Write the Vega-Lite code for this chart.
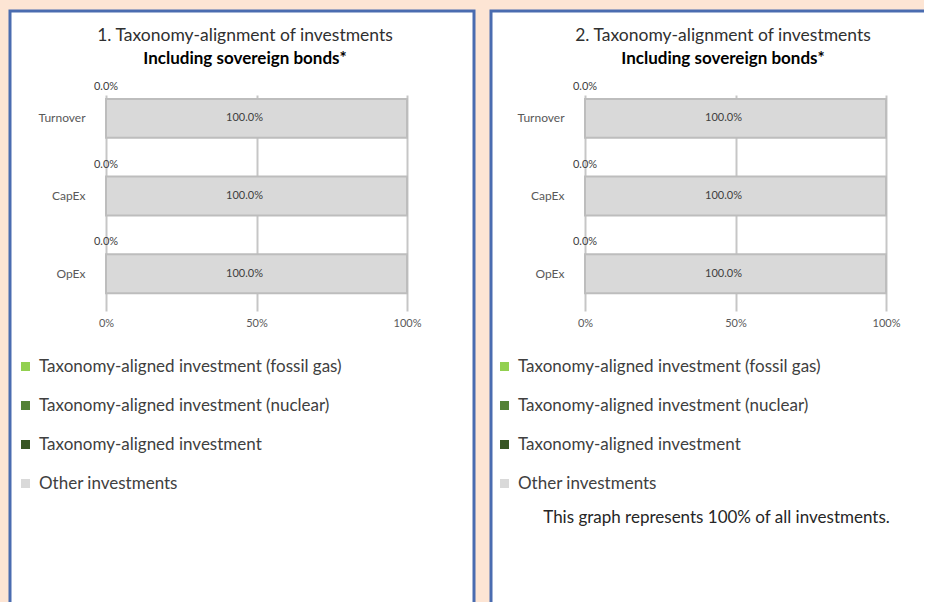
{
  "$schema": "https://vega.github.io/schema/vega-lite/v6.json",
  "background": "#fde5d4",
  "padding": {"left": 8, "top": 9, "right": -9, "bottom": -10},
  "data": {
    "values": [
      {"chart": 1, "category": "Turnover", "segment": "Taxonomy-aligned investment (fossil gas)", "share": 0},
      {"chart": 1, "category": "Turnover", "segment": "Taxonomy-aligned investment (nuclear)", "share": 0},
      {"chart": 1, "category": "Turnover", "segment": "Taxonomy-aligned investment", "share": 0},
      {"chart": 1, "category": "Turnover", "segment": "Other investments", "share": 1},
      {"chart": 1, "category": "CapEx", "segment": "Taxonomy-aligned investment (fossil gas)", "share": 0},
      {"chart": 1, "category": "CapEx", "segment": "Taxonomy-aligned investment (nuclear)", "share": 0},
      {"chart": 1, "category": "CapEx", "segment": "Taxonomy-aligned investment", "share": 0},
      {"chart": 1, "category": "CapEx", "segment": "Other investments", "share": 1},
      {"chart": 1, "category": "OpEx", "segment": "Taxonomy-aligned investment (fossil gas)", "share": 0},
      {"chart": 1, "category": "OpEx", "segment": "Taxonomy-aligned investment (nuclear)", "share": 0},
      {"chart": 1, "category": "OpEx", "segment": "Taxonomy-aligned investment", "share": 0},
      {"chart": 1, "category": "OpEx", "segment": "Other investments", "share": 1},
      {"chart": 2, "category": "Turnover", "segment": "Taxonomy-aligned investment (fossil gas)", "share": 0},
      {"chart": 2, "category": "Turnover", "segment": "Taxonomy-aligned investment (nuclear)", "share": 0},
      {"chart": 2, "category": "Turnover", "segment": "Taxonomy-aligned investment", "share": 0},
      {"chart": 2, "category": "Turnover", "segment": "Other investments", "share": 1},
      {"chart": 2, "category": "CapEx", "segment": "Taxonomy-aligned investment (fossil gas)", "share": 0},
      {"chart": 2, "category": "CapEx", "segment": "Taxonomy-aligned investment (nuclear)", "share": 0},
      {"chart": 2, "category": "CapEx", "segment": "Taxonomy-aligned investment", "share": 0},
      {"chart": 2, "category": "CapEx", "segment": "Other investments", "share": 1},
      {"chart": 2, "category": "OpEx", "segment": "Taxonomy-aligned investment (fossil gas)", "share": 0},
      {"chart": 2, "category": "OpEx", "segment": "Taxonomy-aligned investment (nuclear)", "share": 0},
      {"chart": 2, "category": "OpEx", "segment": "Taxonomy-aligned investment", "share": 0},
      {"chart": 2, "category": "OpEx", "segment": "Other investments", "share": 1}
    ]
  },
  "config": {
    "view": {"fill": "white", "stroke": "#4a6cb0", "strokeWidth": 3},
    "font": "Lato",
    "axis": {"domain": false, "ticks": false, "labelFont": "Lato", "labelFontSize": 11, "labelColor": "#595959"},
    "legend": {
      "labelFont": "Lato", "labelFontSize": 17, "labelColor": "#404040", "labelLimit": 400,
      "symbolType": "square", "symbolSize": 81, "symbolStrokeWidth": 0,
      "rowPadding": 21, "labelOffset": 5, "padding": 0, "symbolOffset": 0
    },
    "title": {"font": "Lato", "subtitleFont": "Lato"}
  },
  "spacing": 13,
  "resolve": {
    "scale": {"x": "independent", "y": "independent", "color": "independent"},
    "legend": {"color": "independent"},
    "axis": {"x": "independent", "y": "independent"}
  },
  "hconcat": [
    {
      "width": 464,
      "height": 600,
      "transform": [{"filter": "datum.chart == 1"}],
      "title": {
        "text": "1. Taxonomy-alignment of investments",
        "subtitle": "Including sovereign bonds*",
        "fontSize": 17.5, "fontWeight": "normal", "color": "#303030",
        "subtitleFontSize": 17, "subtitleFontWeight": "bold", "subtitleColor": "#000000",
        "subtitlePadding": 7, "anchor": "middle", "dx": 3, "offset": -56
      },
      "encoding": {
        "y": {
          "field": "category", "type": "nominal", "sort": ["Turnover", "CapEx", "OpEx"],
          "scale": {"range": [84, 300], "paddingInner": 0.5, "paddingOuter": 0.14, "align": 0.18},
          "axis": {"title": null, "offset": -96, "labelPadding": 21, "labelFontSize": 12, "grid": false}
        }
      },
      "layer": [
        {
          "mark": {"type": "bar", "stroke": "#bdbdbd", "strokeWidth": 2},
          "encoding": {
            "x": {
              "field": "share", "type": "quantitative", "stack": "zero",
              "scale": {"domain": [0, 1], "range": [96, 397], "nice": false},
              "axis": {"orient": "top", "format": ".0%", "values": [0, 0.5, 1], "grid": true, "gridColor": "#c6c6c6", "gridWidth": 2, "offset": -306, "labelPadding": 0, "labelBaseline": "top", "labelFlush": false, "title": null}
            },
            "color": {
              "field": "segment", "type": "nominal",
              "scale": {
                "domain": ["Taxonomy-aligned investment (fossil gas)", "Taxonomy-aligned investment (nuclear)", "Taxonomy-aligned investment", "Other investments"],
                "range": ["#92d050", "#548235", "#375623", "#d9d9d9"]
              },
              "legend": {"orient": "none", "legendX": 7, "legendY": 347, "title": null}
            }
          }
        },
        {
          "transform": [{"filter": "datum.segment == 'Taxonomy-aligned investment'"}],
          "mark": {"type": "text", "fontSize": 11, "color": "#404040", "dy": -12, "font": "Lato"},
          "encoding": {
            "x": {"field": "share", "type": "quantitative", "stack": null},
            "y": {"field": "category", "type": "nominal", "sort": ["Turnover", "CapEx", "OpEx"], "bandPosition": 0},
            "text": {"field": "share", "type": "quantitative", "format": ".1%"}
          }
        },
        {
          "transform": [{"filter": "datum.segment == 'Other investments'"}],
          "mark": {"type": "text", "fontSize": 11, "color": "#404040", "dx": -12, "font": "Lato"},
          "encoding": {
            "x": {"field": "share", "type": "quantitative", "stack": "zero", "bandPosition": 0.5},
            "text": {"field": "share", "type": "quantitative", "format": ".1%"}
          }
        }
      ]
    },
    {
      "width": 440,
      "height": 600,
      "transform": [{"filter": "datum.chart == 2"}],
      "title": {
        "text": "2. Taxonomy-alignment of investments",
        "subtitle": "Including sovereign bonds*",
        "fontSize": 17.5, "fontWeight": "normal", "color": "#303030",
        "subtitleFontSize": 17, "subtitleFontWeight": "bold", "subtitleColor": "#000000",
        "subtitlePadding": 7, "anchor": "middle", "dx": 12, "offset": -56
      },
      "encoding": {
        "y": {
          "field": "category", "type": "nominal", "sort": ["Turnover", "CapEx", "OpEx"],
          "scale": {"range": [84, 300], "paddingInner": 0.5, "paddingOuter": 0.14, "align": 0.18},
          "axis": {"title": null, "offset": -94, "labelPadding": 21, "labelFontSize": 12, "grid": false}
        }
      },
      "layer": [
        {
          "mark": {"type": "bar", "stroke": "#bdbdbd", "strokeWidth": 2},
          "encoding": {
            "x": {
              "field": "share", "type": "quantitative", "stack": "zero",
              "scale": {"domain": [0, 1], "range": [94, 395], "nice": false},
              "axis": {
                "orient": "top", "format": ".0%", "values": [0, 0.5, 1], "grid": true, "gridColor": "#c6c6c6", "gridWidth": 2, "offset": -306, "labelPadding": 0, "labelBaseline": "top", "labelFlush": false,
                "title": "This graph represents 100% of all investments.",
                "titleFont": "Lato", "titleFontSize": 17, "titleFontWeight": "normal", "titleColor": "#262626",
                "titleX": 225, "titleY": 200, "titleAlign": "center", "titleBaseline": "middle"
              }
            },
            "color": {
              "field": "segment", "type": "nominal",
              "scale": {
                "domain": ["Taxonomy-aligned investment (fossil gas)", "Taxonomy-aligned investment (nuclear)", "Taxonomy-aligned investment", "Other investments"],
                "range": ["#92d050", "#548235", "#375623", "#d9d9d9"]
              },
              "legend": {"orient": "none", "legendX": 5, "legendY": 347, "title": null}
            }
          }
        },
        {
          "transform": [{"filter": "datum.segment == 'Taxonomy-aligned investment'"}],
          "mark": {"type": "text", "fontSize": 11, "color": "#404040", "dy": -12, "font": "Lato"},
          "encoding": {
            "x": {"field": "share", "type": "quantitative", "stack": null},
            "y": {"field": "category", "type": "nominal", "sort": ["Turnover", "CapEx", "OpEx"], "bandPosition": 0},
            "text": {"field": "share", "type": "quantitative", "format": ".1%"}
          }
        },
        {
          "transform": [{"filter": "datum.segment == 'Other investments'"}],
          "mark": {"type": "text", "fontSize": 11, "color": "#404040", "dx": -12, "font": "Lato"},
          "encoding": {
            "x": {"field": "share", "type": "quantitative", "stack": "zero", "bandPosition": 0.5},
            "text": {"field": "share", "type": "quantitative", "format": ".1%"}
          }
        }
      ]
    }
  ]
}
